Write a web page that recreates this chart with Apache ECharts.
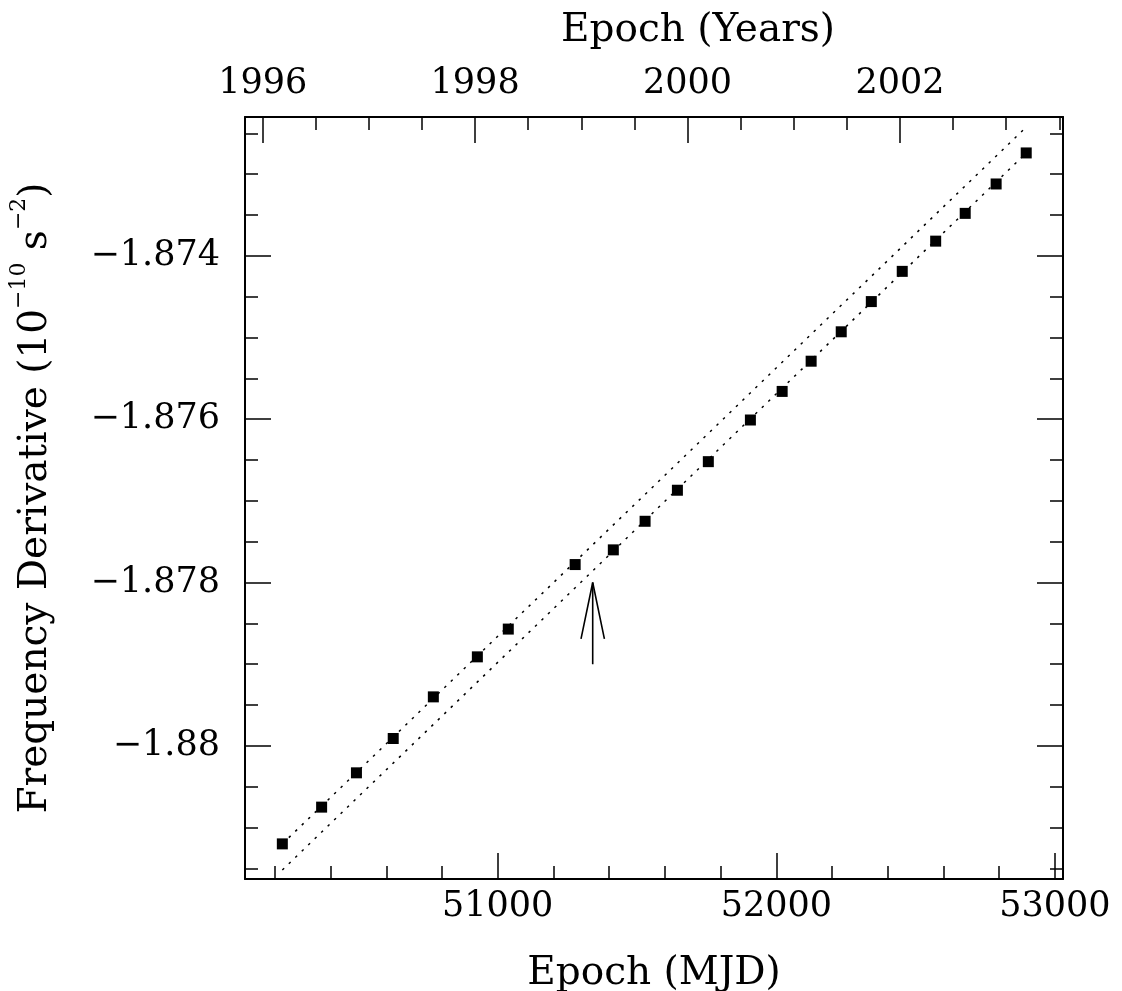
<!DOCTYPE html>
<html>
<head>
<meta charset="utf-8">
<title>Frequency derivative vs epoch</title>
<script src="https://cdn.jsdelivr.net/npm/echarts@6/dist/echarts.min.js"></script>
<style>
  html, body { margin: 0; padding: 0; background: #fff; }
  #chart { width: 1122px; height: 991px; }
</style>
</head>
<body>
<div id="chart"></div>
<script>
// measured epochs (MJD) and frequency derivative (10^-10 s^-2)
const mjd = [50227, 50368, 50493, 50625, 50769, 50927, 51038, 51278, 51415, 51529, 51645,
  51756, 51907, 52021, 52125, 52233, 52341, 52452, 52572, 52678, 52789, 52897];
const fdot = [-1.88120, -1.88075, -1.88033, -1.87991, -1.87940, -1.87891, -1.87857, -1.87778,
  -1.87760, -1.87725, -1.87687, -1.87652, -1.87601, -1.87566, -1.87529, -1.87493, -1.87456,
  -1.87419, -1.87382, -1.87348, -1.87312, -1.87274];

// dotted linear fits (start / end)
const fitUpperMjd = [50227, 52898];
const fitUpperVal = [-1.88120, -1.87242];
const fitLowerMjd = [50227, 52897];
const fitLowerVal = [-1.88152, -1.87274];

// arrow marking the glitch epoch
const arrowShaftMjd = [51341, 51341];
const arrowShaftVal = [-1.87900, -1.87800];
const arrowHeadMjd = [51299, 51341, 51383];
const arrowHeadVal = [-1.87869, -1.87800, -1.87869];

// axis ranges and ticks
const mjdRange = [50093, 53029];
const yearRange = [1995.8334, 2003.535];
const valRange = [-1.88163, -1.87230];
const mjdMajor = [51000, 52000, 53000];
const mjdMinor = [50200, 50400, 50600, 50800, 51200, 51400, 51600, 51800,
  52200, 52400, 52600, 52800];
const yearMajor = [1996, 1998, 2000, 2002];
const yearMinor = [1996.5, 1997, 1997.5, 1998.5, 1999, 1999.5, 2000.5, 2001, 2001.5,
  2002.5, 2003, 2003.5];
const valMajor = [-1.88, -1.878, -1.876, -1.874];
const valMinor = [-1.8815, -1.881, -1.8805, -1.8795, -1.879, -1.8785, -1.8775, -1.877,
  -1.8765, -1.8755, -1.875, -1.8745, -1.8735, -1.873, -1.8725];

const FONT = 'DejaVu Serif';
const LABEL_SIZE = 35;
const NAME_SIZE = 39;

function pairs(xs, ys) {
  return xs.map((x, i) => [x, ys[i]]);
}

// one axis per tick set: long ticks with labels, short ticks without
function makeAxis(position, range, ticks, major, extra) {
  return Object.assign({
    type: 'value',
    position: position,
    min: range[0],
    max: range[1],
    splitLine: { show: false },
    axisLine: { show: major, onZero: false, lineStyle: { color: '#000', width: 2 } },
    axisTick: {
      show: true,
      inside: true,
      length: major ? 26 : 13,
      customValues: ticks,
      lineStyle: { color: '#000', width: 1.5 }
    },
    axisLabel: { show: false }
  }, extra || {});
}

function labelStyle(values, margin, fmt) {
  return {
    show: true,
    customValues: values,
    margin: margin,
    fontFamily: FONT,
    fontSize: LABEL_SIZE,
    color: '#000',
    formatter: fmt
  };
}

const nameStyle = { fontFamily: FONT, fontSize: NAME_SIZE, color: '#000' };

const chart = echarts.init(document.getElementById('chart'));

const option = {
  backgroundColor: '#fff',
  animation: false,
  grid: { left: 245, right: 59, top: 117, bottom: 112, outerBoundsMode: 'none' },
  xAxis: [
    makeAxis('bottom', mjdRange, mjdMajor, true, {
      axisLabel: labelStyle(mjdMajor, 10, v => String(v)),
      name: 'Epoch (MJD)',
      nameLocation: 'middle',
      nameGap: 75,
      nameTextStyle: nameStyle
    }),
    makeAxis('bottom', mjdRange, mjdMinor, false),
    makeAxis('top', yearRange, yearMajor, true, {
      axisLabel: labelStyle(yearMajor, 16, v => String(v)),
      name: 'Epoch (Years)',
      nameLocation: 'middle',
      nameGap: 67,
      nameTextStyle: Object.assign({ padding: [0, 0, 0, 88] }, nameStyle)
    }),
    makeAxis('top', yearRange, yearMinor, false)
  ],
  yAxis: [
    makeAxis('left', valRange, valMajor, true, {
      axisLabel: labelStyle(valMajor, 25, v => '\u2212' + Math.abs(v)),
      name: 'Frequency Derivative (10{sup|\u221210} s{sup|\u22122})',
      nameLocation: 'middle',
      nameGap: 181,
      nameTextStyle: Object.assign({
        lineHeight: 56,
        rich: {
          sup: { fontFamily: FONT, fontSize: 22, lineHeight: 22, verticalAlign: 'top', color: '#000' }
        }
      }, nameStyle)
    }),
    makeAxis('left', valRange, valMinor, false),
    makeAxis('right', valRange, valMajor, true),
    makeAxis('right', valRange, valMinor, false)
  ],
  series: [
    {
      type: 'line',
      data: pairs(fitUpperMjd, fitUpperVal),
      showSymbol: false,
      silent: true,
      lineStyle: { color: '#000', width: 1.5, type: [2.5, 6.5] }
    },
    {
      type: 'line',
      data: pairs(fitLowerMjd, fitLowerVal),
      showSymbol: false,
      silent: true,
      lineStyle: { color: '#000', width: 1.5, type: [2.5, 6.5] }
    },
    {
      type: 'line',
      data: pairs(arrowShaftMjd, arrowShaftVal),
      showSymbol: false,
      silent: true,
      lineStyle: { color: '#000', width: 1.6 }
    },
    {
      type: 'line',
      data: pairs(arrowHeadMjd, arrowHeadVal),
      showSymbol: false,
      silent: true,
      lineStyle: { color: '#000', width: 1.6 }
    },
    {
      type: 'scatter',
      data: pairs(mjd, fdot),
      symbol: 'rect',
      symbolSize: 11,
      itemStyle: { color: '#000', opacity: 1 },
      z: 5
    }
  ]
};

chart.setOption(option);
</script>
</body>
</html>
